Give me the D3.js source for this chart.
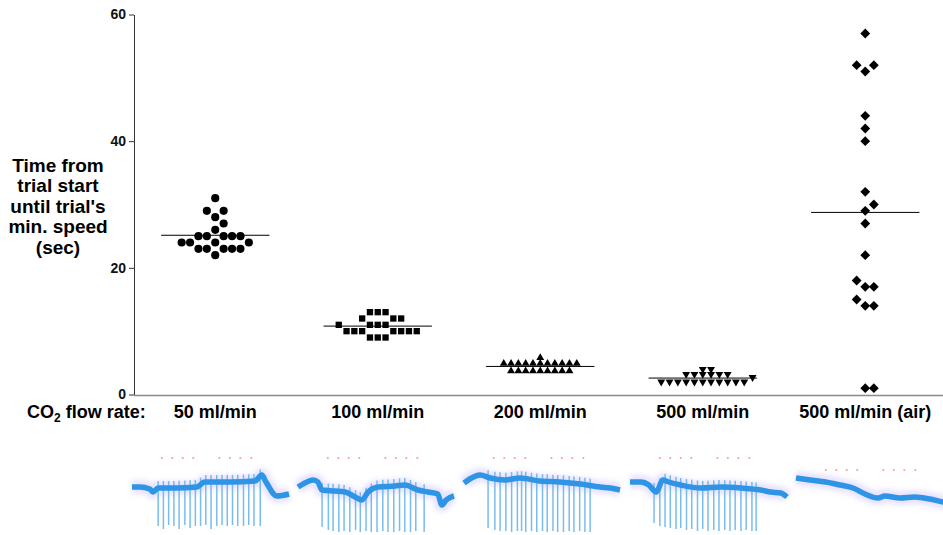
<!DOCTYPE html>
<html>
<head>
<meta charset="utf-8">
<script src="https://cdn.jsdelivr.net/npm/d3@7"></script>
<style>
  body { margin: 0; background: #fff; }
  svg { display: block; font-family: 'Liberation Sans', Arial, sans-serif; }
</style>
</head>
<body>
<div id="graf"></div>
<script>
// I. Datos
categorias = ['50 ml/min', '100 ml/min', '200 ml/min', '500 ml/min', '500 ml/min (air)']

// tiempo desde el inicio hasta la velocidad mínima (sec)
flujo50  = [31, 29, 29, 28, 27, 26, 25, 25, 25, 25, 25, 24, 24, 24, 24, 23, 23, 23, 23, 23, 22]
flujo100 = [13, 13, 13, 12, 12, 12, 11, 11, 11, 11, 10, 10, 10, 10, 10, 10, 10, 9, 9, 9]
flujo200 = [5.8, 4.9, 4.9, 4.9, 4.9, 4.9, 4.9, 4.9, 4.9, 4.9, 4.9, 4.9,
            3.7, 3.7, 3.7, 3.7, 3.7, 3.7, 3.7, 3.7, 3.7]
flujo500 = [4, 4, 3.2, 3.2, 3.2, 3.2, 3.2, 3.2, 2.7,
            2, 2, 2, 2, 2, 2, 2, 2, 2, 2, 2]
flujoAire = [57, 52, 52, 51, 44, 42, 40, 32, 30, 29, 27, 22, 18, 17, 17, 15, 14, 14, 1, 1]

ticksY = [0, 20, 40, 60]

// trazos de velocidad bajo cada grupo: [t (s), nivel]
base1 = [[0, 45], [1.5, 45], [3.4, 43], [4, 40], [5, 44], [8.2, 44], [12.4, 45], [13.9, 50],
         [18.7, 50], [23.5, 51], [24.8, 57], [25.6, 50], [27.7, 36], [30, 38]]
base2 = [[0, 45], [1.3, 49], [2.9, 52], [3.8, 50], [4.6, 42], [7.1, 41], [9, 40], [10.9, 35],
         [12.2, 32], [13.4, 40], [15.3, 45], [18.5, 46], [20.4, 47], [22.9, 42], [24.8, 40],
         [26.7, 38], [27.5, 27], [28.3, 32], [29.8, 36]]
base3 = [[0, 49], [1.1, 53], [3.1, 57], [5, 54], [7.8, 52], [10.7, 54], [14.5, 51], [18.3, 50],
         [22.2, 48], [26, 45], [27.9, 44], [29.8, 42]]
base4 = [[0, 50], [2.1, 50], [3.6, 47], [5, 40], [6.3, 52], [7.4, 50], [9.7, 47], [13.6, 44],
         [17.4, 45], [21.2, 44], [25, 42], [26.9, 40], [28.8, 39], [30, 35]]
base5 = [[0, 54], [2.7, 52], [5.7, 50], [8.4, 47], [10.9, 44], [13.2, 38], [15.7, 34], [17, 36],
         [19.9, 34], [22.7, 35], [25.6, 33], [28.1, 30], [30, 29]]

// picos: [t (s), fondo]
picos1 = [[5, 6], [6, 3], [7, 7], [8, 6], [9, 3], [10.1, 7], [11.1, 4], [12.1, 6], [13.1, 6], [14.1, 7],
          [15.1, 3], [16.2, 6], [17.2, 7], [18.2, 6], [19.2, 7], [20.2, 6], [21.3, 6], [22.3, 7],
          [23.3, 6], [24.5, 6]]
picos2 = [[4.6, 5], [5.8, 2], [6.7, 1], [7.8, 0], [8.8, 1], [9.9, 0], [11, 2], [11.9, 0], [13, 1],
          [14, 0], [15.1, 0], [16.2, 1], [17.2, 0], [18.3, 0], [19.4, 1], [20.4, 0], [21.5, 0],
          [22.5, 1], [24.1, 0]]
picos3 = [[4.6, 4], [5.9, 2], [6.9, 1], [8, 1], [9.1, 0], [10.2, 1], [11, 1], [11.8, 0], [12.9, 1],
          [13.9, 0], [15, 1], [15.9, 0], [17, 1], [17.9, 0], [19, 0], [20.1, 1], [21, 0], [22.1, 1],
          [23.1, 0], [24.1, 0]]
picos4 = [[4.6, 9], [5.7, 6], [6.7, 5], [7.7, 4], [8.8, 3], [9.7, 4], [10.8, 2], [11.8, 3], [12.9, 1],
          [13.9, 3], [14.9, 1], [16, 2], [17, 1], [18.1, 2], [19.1, 1], [20.1, 2], [21.2, 1],
          [22.2, 2], [23.3, 1], [24.1, 1]]
picos5 = []

marcasT = [5.7, 7.7, 9.7, 11.7, 16.7, 18.7, 20.7, 22.8]
nivelMarcas = [74, 74, 74, 74, 62]

// II. Configuración
ancho_total = 943
alto_total = 535

svg = d3.select('#graf').append('svg')
        .attr('width', ancho_total)
        .attr('height', alto_total)

y = d3.scaleLinear()
      .domain([0, 60])
      .range([394.5, 14.5])

x = d3.scaleBand()
      .domain(categorias)
      .range([134, 946.5])

// paso: separación horizontal, alto: distancia vertical a la que dos marcas chocan
grupos = [
  { datos: flujo50,   forma: d3.symbolCircle,   tam: 52, giro: 0,   paso: 8.4, alto: 7 },
  { datos: flujo100,  forma: d3.symbolSquare,   tam: 40, giro: 0,   paso: 7.8, alto: 7 },
  { datos: flujo200,  forma: d3.symbolTriangle, tam: 27, giro: 0,   paso: 7.3, alto: 5 },
  { datos: flujo500,  forma: d3.symbolTriangle, tam: 27, giro: 180, paso: 8.3, alto: 5 },
  { datos: flujoAire, forma: d3.symbolSquare,   tam: 48, giro: 45,  paso: 8.6, alto: 7 }
]

// acomoda los puntos de abajo hacia arriba sin encimarlos
function enjambre(valores, paso, alto) {
  puestos = []
  valores.slice().sort((a, b) => a - b).forEach(v => {
    yp = y(v)
    let dx = 0
    for (let k = 0; k < 40; k++) {
      dx = k == 0 ? 0 : Math.ceil(k / 2) * paso * (k % 2 ? 1 : -1)
      choca = puestos.some(q => Math.abs(q.dx - dx) < paso - 0.1 && Math.abs(q.y - yp) < alto)
      if (!choca) break
    }
    puestos.push({ v: v, y: yp, dx: dx })
  })
  return puestos
}

// III. Ejes
ejeY = svg.append('g')
          .attr('transform', `translate(${x.range()[0]}, 0)`)
          .call(d3.axisLeft(y).tickValues(ticksY).tickSize(5).tickPadding(3).tickSizeOuter(0))
ejeY.select('.domain').attr('stroke', '#333')
ejeY.selectAll('.tick line').attr('stroke', '#333')
ejeY.selectAll('.tick text')
    .style('font-size', '14px')
    .style('font-weight', 'bold')
    .attr('fill', '#111')

svg.append('line')
   .attr('x1', x.range()[0]).attr('x2', 943)
   .attr('y1', y(0) + 1).attr('y2', y(0) + 1)
   .attr('stroke', '#8a8a8a')
   .attr('stroke-width', 1.5)

titulo = svg.append('text')
            .attr('text-anchor', 'middle')
            .style('font-size', '19px')
            .style('font-weight', 'bold')
lineasTitulo = ['Time from', 'trial start', 'until trial\'s', 'min. speed', '(sec)']
lineasTitulo.forEach((t, i) => {
  titulo.append('tspan')
        .attr('x', 58)
        .attr('y', 171.5 + i * 20.5)
        .text(t)
})

// etiquetas de categorías
svg.selectAll('.etiqueta')
   .data(categorias)
   .enter()
   .append('text')
     .attr('class', 'etiqueta')
     .attr('x', d => x(d) + x.bandwidth() / 2)
     .attr('y', 418)
     .attr('text-anchor', 'middle')
     .style('font-size', '18px')
     .style('font-weight', 'bold')
     .text(d => d)

co2 = svg.append('text')
         .attr('x', 27)
         .attr('y', 418)
         .style('font-size', '18px')
         .style('font-weight', 'bold')
co2.append('tspan').text('CO')
co2.append('tspan').attr('dy', 4).style('font-size', '12px').text('2')
co2.append('tspan').attr('dy', -4).text(' flow rate:')

// IV. Puntos y medias
grupos.forEach((gr, i) => {
  cx = x(categorias[i]) + x.bandwidth() / 2
  media = d3.mean(gr.datos)
  largo = x.bandwidth() * 2 / 3

  svg.append('line')
     .attr('x1', cx - largo / 2).attr('x2', cx + largo / 2)
     .attr('y1', y(media)).attr('y2', y(media))
     .attr('stroke', '#000')
     .attr('stroke-width', 1)

  simbolo = d3.symbol(gr.forma, gr.tam)
  svg.append('g')
     .selectAll('path')
     .data(enjambre(gr.datos, gr.paso, gr.alto))
     .enter()
     .append('path')
       .attr('d', simbolo)
       .attr('transform', d => `translate(${cx + d.dx}, ${d.y}) rotate(${gr.giro})`)
       .attr('fill', '#000')
})

// V. Trazos de velocidad
defs = svg.append('defs')
defs.append('filter').attr('id', 'difuso')
    .attr('filterUnits', 'userSpaceOnUse')
    .attr('x', 0).attr('y', 430).attr('width', ancho_total).attr('height', 105)
    .append('feGaussianBlur').attr('stdDeviation', 0.7)
defs.append('filter').attr('id', 'halo')
    .attr('filterUnits', 'userSpaceOnUse')
    .attr('x', 0).attr('y', 430).attr('width', ancho_total).attr('height', 105)
    .append('feGaussianBlur').attr('stdDeviation', 2.5)

panel = d3.scaleBand()
          .domain(categorias)
          .range([132, 953])
          .paddingInner(0.054)

yT = d3.scaleLinear()
       .domain([0, 80])
       .range([532, 452])

bases = [base1, base2, base3, base4, base5]
picos = [picos1, picos2, picos3, picos4, picos5]

categorias.forEach((c, i) => {
  xt = d3.scaleLinear()
         .domain([0, 30])
         .range([panel(c), panel(c) + panel.bandwidth()])
  nivel = d3.scaleLinear()
            .domain(bases[i].map(d => d[0]))
            .range(bases[i].map(d => d[1]))
  linea = d3.line()
            .x(d => xt(d[0]))
            .y(d => yT(d[1]))
            .curve(d3.curveMonotoneX)

  g = svg.append('g')

  g.append('path')
   .datum(bases[i])
   .attr('d', linea)
   .attr('fill', 'none')
   .attr('stroke', '#c9c0ff')
   .attr('stroke-width', 14)
   .attr('stroke-opacity', 0.45)
   .attr('filter', 'url(#halo)')

  g.selectAll('.pico')
   .data(picos[i])
   .enter()
   .append('line')
     .attr('class', 'pico')
     .attr('x1', d => xt(d[0])).attr('x2', d => xt(d[0]))
     .attr('y1', d => yT(nivel(d[0]) + 7))
     .attr('y2', d => yT(d[1]))
     .attr('stroke', '#62b0ec')
     .attr('stroke-width', 1.5)
     .attr('stroke-opacity', 0.85)
     .attr('filter', 'url(#difuso)')

  g.append('path')
   .datum(bases[i])
   .attr('d', linea)
   .attr('fill', 'none')
   .attr('stroke', '#2f94e6')
   .attr('stroke-width', 5.5)
   .attr('filter', 'url(#difuso)')

  g.selectAll('.marca')
   .data(marcasT)
   .enter()
   .append('circle')
     .attr('class', 'marca')
     .attr('cx', d => xt(d))
     .attr('cy', yT(nivelMarcas[i]))
     .attr('r', 1.1)
     .attr('fill', '#f4a0a0')
})
</script>
</body>
</html>
